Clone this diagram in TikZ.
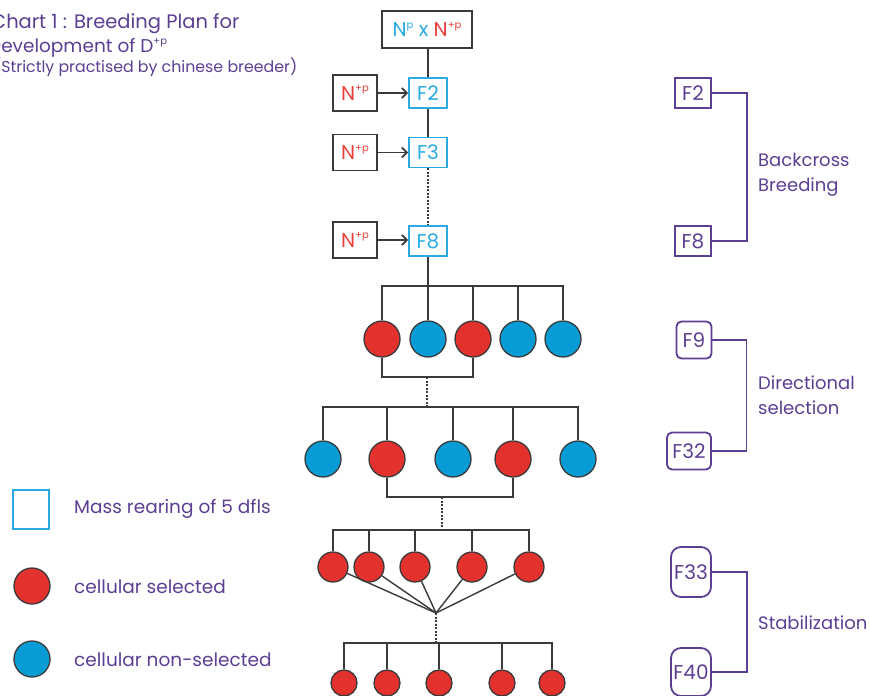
\documentclass[tikz,border=0pt]{standalone}
\usepackage{fontspec}
\setmainfont{Poppins}
\usetikzlibrary{arrows.meta}
\definecolor{pur}{RGB}{92,62,146}
\definecolor{cyanbox}{RGB}{41,170,226}
\definecolor{redt}{RGB}{232,64,56}
\definecolor{redf}{RGB}{227,49,45}
\definecolor{bluef}{RGB}{8,156,214}
\definecolor{lin}{RGB}{58,58,58}
\newcommand\mysup[1]{\raisebox{0.42em}{\fontsize{10}{10}\selectfont #1}}
\begin{document}
\begin{tikzpicture}[x=1pt,y=-1pt,
  ln/.style={draw=lin,line width=1.8pt},
  dln/.style={draw=lin,line width=1.8pt,dash pattern=on 2pt off 1.5pt},
  graybox/.style={draw=lin,line width=1.8pt,inner sep=0,minimum width=44pt,minimum height=36pt,font=\fontsize{20}{20}\selectfont,text=redt},
  fgen/.style={draw=cyanbox,line width=1.8pt,inner sep=0,minimum width=38pt,minimum height=30pt,font=\fontsize{20}{20}\selectfont,text=cyanbox},
  pbox/.style={draw=pur,line width=1.8pt,inner sep=0,minimum width=36pt,minimum height=30pt,font=\fontsize{20}{20}\selectfont,text=pur},
  pl/.style={draw=pur,line width=1.8pt},
  ptext/.style={text=pur,font=\fontsize{18}{25}\selectfont,align=left,anchor=west,inner sep=0},
  redc/.style={circle,draw=lin,line width=1.3pt,fill=redf,inner sep=0,minimum size=#1},
  bluec/.style={circle,draw=lin,line width=1.3pt,fill=bluef,inner sep=0,minimum size=#1},
  title/.style={text=pur,anchor=base west,inner sep=0}
]
\useasboundingbox (0,0) rectangle (870,696);
\begin{scope}
\clip (0,0) rectangle (870,696);
% title
\node[title,font=\fontsize{19.5}{20}\selectfont] (t1) at (-9,28) {Chart 1 : Breeding Plan for};
\node[title,font=\fontsize{18.5}{19}\selectfont] (t2) at (-12,52) {Development of D\mysup{+p}};
\node[title,font=\fontsize{15.8}{16}\selectfont] (t3) at (-6,72) {(Strictly practised by chinese breeder)};

% top chain
\node[graybox,minimum width=90pt,minimum height=37pt] (top) at (427,29.5) {\textcolor{cyanbox}{N\mysup{p} x }N\mysup{+p}};
\node[fgen] (f2) at (428,93) {F2};
\node[fgen] (f3) at (428,152.5) {F3};
\node[fgen] (f8) at (428,241) {F8};
\node[graybox] (n2) at (355,93) {N\mysup{+p}};
\node[graybox] (n3) at (355,152.5) {N\mysup{+p}};
\node[graybox] (n8) at (355,240) {N\mysup{+p}};
\draw[ln] (top.south -| f2.north) -- (f2.north);
\draw[ln] (f2.south) -- (f3.north);
\draw[dln] (f3.south) -- (f8.north);
\foreach \a/\b in {n2/f2,n3/f3,n8/f8}
  \draw[ln,-{Straight Barb[length=5pt,width=10pt]}] (\a.east) -- (\a.east -| \b.west);

% row 1
\coordinate (bar1) at (428,286);
\node[redc=36pt]  (c11) at (382,339) {};
\node[bluec=36pt] (c12) at (428,339) {};
\node[redc=36pt]  (c13) at (473,339) {};
\node[bluec=36pt] (c14) at (518,339) {};
\node[bluec=36pt] (c15) at (563,339) {};
\draw[ln] (f8.south) -- (c12.north);
\draw[ln] (c11.north) |- (bar1) -| (c15.north);
\draw[ln] (c13.north) -- (c13.north |- bar1);
\draw[ln] (c14.north) -- (c14.north |- bar1);
\coordinate (m1) at (427,377);
\draw[ln] (c11.south) |- (m1) -| (c13.south);
\coordinate (bar2) at (427,407);
\draw[dln] (m1) -- (bar2);

% row 2
\node[bluec=36pt] (c21) at (323,459) {};
\node[redc=36pt]  (c22) at (387,459) {};
\node[bluec=36pt] (c23) at (453,459) {};
\node[redc=36pt]  (c24) at (513,459) {};
\node[bluec=36pt] (c25) at (578,459) {};
\draw[ln] (c21.north) |- (bar2) -| (c25.north);
\foreach \c in {c22,c23,c24}
  \draw[ln] (\c.north) -- (\c.north |- bar2);
\coordinate (m2) at (442,497);
\draw[ln] (c22.south) |- (m2) -| (c24.south);
\coordinate (bar3) at (442,530);
\draw[dln] (m2) -- (bar3);

% row 3
\node[redc=30pt] (c31) at (333,567) {};
\node[redc=30pt] (c32) at (369,567) {};
\node[redc=30pt] (c33) at (415,567) {};
\node[redc=30pt] (c34) at (472,567) {};
\node[redc=30pt] (c35) at (529,567) {};
\draw[ln] (c31.north) |- (bar3) -| (c35.north);
\foreach \c in {c32,c33,c34}
  \draw[ln] (\c.north) -- (\c.north |- bar3);
\coordinate (conv) at (436,613);
\foreach \c in {c31,c32,c33,c34,c35}
  \draw[line width=1.4pt,draw=lin] (\c) -- (conv);
\coordinate (bar4) at (436,643);
\draw[dln] (conv) -- (bar4);

% row 4
\node[redc=26pt] (c41) at (344,683) {};
\node[redc=26pt] (c42) at (387,683) {};
\node[redc=26pt] (c43) at (439,683) {};
\node[redc=26pt] (c44) at (502,683) {};
\node[redc=26pt] (c45) at (552,683) {};
\draw[ln] (c41.north) |- (bar4) -| (c45.north);
\foreach \c in {c42,c43,c44}
  \draw[ln] (\c.north) -- (\c.north |- bar4);

% right side
\node[pbox] (r2) at (693,93) {F2};
\node[pbox] (r8) at (693,241) {F8};
\draw[pl] (r2.east) -- ++(35,0) |- (r8.east);
\node[ptext] (bb) at (758,175) {Backcross\\Breeding};

\node[pbox,rounded corners=5pt,minimum width=35pt,minimum height=37pt] (r9) at (694,340) {F9};
\node[pbox,rounded corners=5pt,minimum width=44pt,minimum height=37pt] (r32) at (689,451) {F32};
\draw[pl] (r9.east) -- ++(34,0) |- (r32.east);
\node[ptext] (ds) at (758,395) {Directional\\selection};

\node[pbox,rounded corners=10pt,minimum width=40pt,minimum height=50pt] (r33) at (691,572) {F33};
\node[pbox,rounded corners=10pt,minimum width=40pt,minimum height=48pt] (r40) at (691,672) {F40};
\draw[pl] (r33.east) -- ++(35,0) |- (r40.east);
\node[ptext] (st) at (758,623) {Stabilization};

% legend
\node[draw=cyanbox,line width=1.8pt,minimum width=36pt,minimum height=39pt,inner sep=0] (lg1) at (31,509.5) {};
\node[redc=36pt] (lg2) at (32,586) {};
\node[bluec=36pt] (lg3) at (32,659) {};
\node[ptext,font=\fontsize{18.5}{25}\selectfont] (lt1) at (74,509) {Mass rearing of 5 dfls};
\node[ptext,font=\fontsize{18.5}{25}\selectfont] (lt2) at (74,587) {cellular selected};
\node[ptext,font=\fontsize{18.5}{25}\selectfont] (lt3) at (74,660) {cellular non-selected};
\end{scope}
\end{tikzpicture}
\end{document}
